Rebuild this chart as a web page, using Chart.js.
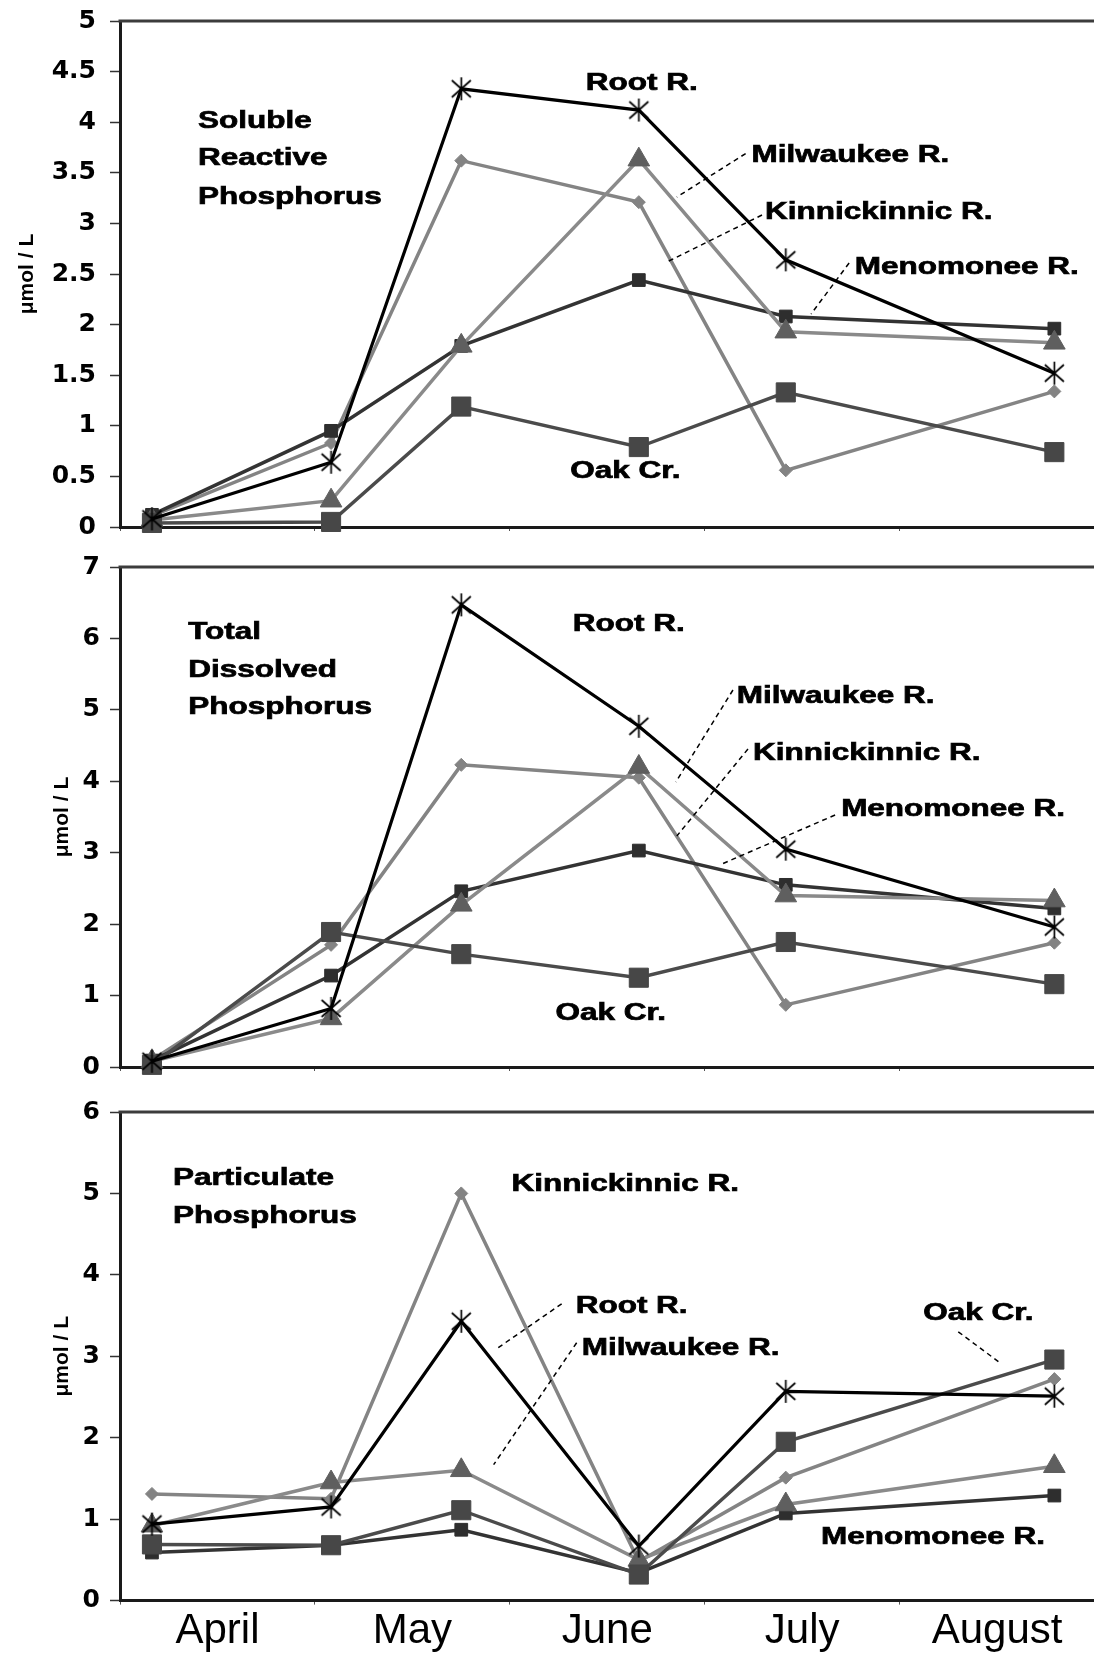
<!DOCTYPE html>
<html>
<head>
<meta charset="utf-8">
<title>Phosphorus in Milwaukee-area rivers</title>
<script src="https://cdn.jsdelivr.net/npm/chart.js@4.4.1/dist/chart.umd.min.js"></script>
<style>
  html, body { margin: 0; padding: 0; background: #fff; overflow: hidden; }
  #wrap { position: relative; width: 1094px; height: 1655px; overflow: hidden; }
  canvas { position: absolute; left: 0; top: 0; }
</style>
</head>
<body>
<div id="wrap">
  <canvas id="srp" width="1094" height="540"></canvas>
  <canvas id="tdp" width="1094" height="540"></canvas>
  <canvas id="pp"  width="1094" height="575"></canvas>
</div>
<script>
// ---- categories and sampling positions (month index + fraction of month) ----
const months = ['April', 'May', 'June', 'July', 'August'];
const samplePos = [0.164, 1.083, 1.751, 2.662, 3.416, 4.794];

// ---- Soluble Reactive Phosphorus (µmol/L) ----
const srpRoot = [0.08, 0.64, 4.33, 4.12, 2.64, 1.52];
const srpKinn = [0.11, 0.83, 3.62, 3.21, 0.56, 1.34];
const srpMilw = [0.07, 0.26, 1.79, 3.63, 1.93, 1.82];
const srpMeno = [0.12, 0.95, 1.79, 2.44, 2.08, 1.96];
const srpOak  = [0.04, 0.05, 1.19, 0.79, 1.33, 0.74];

// ---- Total Dissolved Phosphorus (µmol/L) ----
const tdpRoot = [0.08, 0.82, 6.47, 4.77, 3.05, 1.96];
const tdpKinn = [0.10, 1.71, 4.23, 4.05, 0.87, 1.74];
const tdpMilw = [0.08, 0.68, 2.27, 4.20, 2.40, 2.33];
const tdpMeno = [0.09, 1.28, 2.46, 3.03, 2.55, 2.22];
const tdpOak  = [0.03, 1.89, 1.58, 1.25, 1.75, 1.16];

// ---- Particulate Phosphorus (µmol/L) ----
const ppRoot = [0.94, 1.15, 3.43, 0.67, 2.57, 2.51];
const ppKinn = [1.31, 1.25, 5.00, 0.48, 1.51, 2.72];
const ppMilw = [0.92, 1.45, 1.60, 0.50, 1.18, 1.65];
const ppMeno = [0.59, 0.68, 0.87, 0.34, 1.07, 1.29];
const ppOak  = [0.69, 0.68, 1.11, 0.32, 1.95, 2.96];

// ---- in-plot text, in data coordinates (x = month position, y = µmol/L) ----
const srpText = [
  ['Soluble', 0.40, 4.01], ['Reactive', 0.40, 3.64], ['Phosphorus', 0.40, 3.26],
  ['Root R.', 2.39, 4.38], ['Milwaukee R.', 3.24, 3.67], ['Kinnickinnic R.', 3.31, 3.11],
  ['Menomonee R.', 3.77, 2.56], ['Oak Cr.', 2.31, 0.55]
];
const srpLeaders = [[3.21, 3.69, 2.857, 3.26], [3.294, 3.083, 2.806, 2.619], [3.741, 2.609, 3.546, 2.105]];

const tdpText = [
  ['Total', 0.35, 6.076], ['Dissolved', 0.35, 5.555], ['Phosphorus', 0.35, 5.029],
  ['Root R.', 2.323, 6.19], ['Milwaukee R.', 3.165, 5.18], ['Kinnickinnic R.', 3.248, 4.385],
  ['Menomonee R.', 3.70, 3.60], ['Oak Cr.', 2.235, 0.75]
];
const tdpLeaders = [[3.145, 5.278, 2.852, 3.99], [3.222, 4.452, 2.857, 3.234], [3.669, 3.528, 3.088, 2.842]];

const ppText = [
  ['Particulate', 0.272, 5.178], ['Phosphorus', 0.272, 4.712],
  ['Kinnickinnic R.', 2.009, 5.104], ['Root R.', 2.338, 3.607], ['Milwaukee R.', 2.369, 3.092],
  ['Oak Cr.', 4.121, 3.521], ['Menomonee R.', 3.597, 0.779]
];
const ppLeaders = [[2.266, 3.644, 1.932, 3.092], [2.343, 3.166, 1.917, 1.669], [4.301, 3.301, 4.522, 2.908]];

const SANS = "'Liberation Sans', Arial, sans-serif";
const PAGE_RIGHT = 1094;

// asterisk marker used for the Root River series
function asteriskMarker() {
  const c = document.createElement('canvas');
  c.width = 25; c.height = 25;
  const g = c.getContext('2d');
  g.strokeStyle = '#000';
  g.lineWidth = 1.7;
  g.beginPath();
  g.moveTo(12.5, 1); g.lineTo(12.5, 24);
  g.moveTo(3, 4); g.lineTo(22, 21);
  g.moveTo(22, 4); g.lineTo(3, 21);
  g.stroke();
  return c;
}
const STAR = asteriskMarker();

function pts(values) {
  return values.map((v, i) => ({ x: samplePos[i], y: v }));
}

function seriesSet(root, kinn, milw, meno, oak) {
  const common = { xAxisID: 'xv', yAxisID: 'y', tension: 0, clip: false, borderWidth: 3.5, pointBorderWidth: 1 };
  return [
    Object.assign({}, common, { label: 'Root R.', data: pts(root), order: 0, borderWidth: 3.2,
      borderColor: '#000000', pointStyle: STAR, pointRadius: 12 }),
    Object.assign({}, common, { label: 'Oak Cr.', data: pts(oak), order: 1,
      borderColor: '#4b4b4b', pointStyle: 'rect', pointRadius: 13.5,
      pointBackgroundColor: '#474747', pointBorderColor: '#474747' }),
    Object.assign({}, common, { label: 'Milwaukee R.', data: pts(milw), order: 2,
      borderColor: '#8a8a8a', pointStyle: 'triangle', pointRadius: 12.5,
      pointBackgroundColor: '#5f5f5f', pointBorderColor: '#5f5f5f' }),
    Object.assign({}, common, { label: 'Menomonee R.', data: pts(meno), order: 3,
      borderColor: '#333333', pointStyle: 'rect', pointRadius: 9,
      pointBackgroundColor: '#2e2e2e', pointBorderColor: '#2e2e2e' }),
    Object.assign({}, common, { label: 'Kinnickinnic R.', data: pts(kinn), order: 4,
      borderColor: '#848484', pointStyle: 'rectRot', pointRadius: 6.5,
      pointBackgroundColor: '#838383', pointBorderColor: '#838383' })
  ];
}

// top frame line, dashed leaders and series/heading text
function decorations(texts, leaders) {
  return {
    id: 'decorations',
    afterDatasetsDraw(chart) {
      const { ctx, chartArea: a } = chart;
      const xs = chart.scales.xv, ys = chart.scales.y;
      ctx.save();
      ctx.strokeStyle = '#3c3c3c';
      ctx.lineWidth = 3;
      ctx.beginPath();
      ctx.moveTo(a.left - 1.5, a.top);
      ctx.lineTo(a.right + 2, a.top);
      ctx.stroke();

      ctx.strokeStyle = '#000';
      ctx.lineWidth = 1.5;
      ctx.setLineDash([5, 4]);
      for (const [x1, y1, x2, y2] of leaders) {
        ctx.beginPath();
        ctx.moveTo(xs.getPixelForValue(x1), ys.getPixelForValue(y1));
        ctx.lineTo(xs.getPixelForValue(x2), ys.getPixelForValue(y2));
        ctx.stroke();
      }
      ctx.setLineDash([]);

      ctx.fillStyle = '#000';
      ctx.strokeStyle = '#000';
      ctx.lineWidth = 0.7;
      ctx.font = 'bold 23.5px ' + SANS;
      ctx.textAlign = 'left';
      ctx.textBaseline = 'middle';
      for (const [t, x, y] of texts) {
        ctx.save();
        ctx.translate(xs.getPixelForValue(x), ys.getPixelForValue(y));
        ctx.scale(1.34, 1);
        ctx.fillText(t, 0, 0);
        ctx.strokeText(t, 0, 0);
        ctx.restore();
      }
      ctx.restore();
    }
  };
}

function chartConfig(cfg) {
  return {
    type: 'line',
    data: { labels: months, datasets: cfg.datasets },
    options: {
      responsive: false,
      maintainAspectRatio: false,
      animation: false,
      events: [],
      layout: { padding: 0 },
      plugins: { legend: { display: false }, tooltip: { enabled: false } },
      scales: {
        x: {
          type: 'category', labels: months, offset: true,
          ticks: { display: cfg.showMonths, color: '#000', padding: 2, maxRotation: 0, autoSkip: false,
            font: { family: SANS, size: 42 } },
          grid: { offset: true, drawOnChartArea: false, tickLength: 4, tickColor: '#555', tickWidth: 1 },
          border: { display: true, color: '#1a1a1a', width: 3 }
        },
        xv: { type: 'linear', min: 0, max: 5, display: false },
        y: {
          min: 0, max: cfg.yMax,
          ticks: { stepSize: cfg.yStep, padding: cfg.tickPad, color: '#000',
            font: { family: "'DejaVu Sans', sans-serif", weight: 'bold', size: 25 },
            callback: (v) => String(v) },
          grid: { drawOnChartArea: false, tickLength: 10, tickColor: '#333', tickWidth: 1.5 },
          border: { display: true, color: '#1a1a1a', width: 3 },
          title: { display: true, text: 'μmol / L', color: '#000',
            font: { family: SANS, weight: 'bold', size: 21 }, padding: { top: cfg.titlePad, bottom: 0 } },
          afterFit(scale) { scale.width = 120; }
        }
      }
    },
    plugins: [decorations(cfg.texts, cfg.leaders)]
  };
}

// size each canvas so that its plot frame spans [top, bottom] on the page
// and reaches the right edge, then shift it into place
function panel(id, cfg) {
  const canvas = document.getElementById(id);
  let chart = new Chart(canvas, chartConfig(cfg));
  for (let k = 0; k < 4; k++) {
    const a = chart.chartArea;
    const w = Math.round(canvas.width + (PAGE_RIGHT - a.right));
    const h = Math.round(canvas.height + ((cfg.bottom - cfg.top) - (a.bottom - a.top)));
    if (w === canvas.width && h === canvas.height) break;
    chart.destroy();
    canvas.width = w;
    canvas.height = h;
    canvas.style.width = '';
    canvas.style.height = '';
    chart = new Chart(canvas, chartConfig(cfg));
  }
  canvas.style.top = (cfg.top - chart.chartArea.top) + 'px';
  return chart;
}

panel('srp', { datasets: seriesSet(srpRoot, srpKinn, srpMilw, srpMeno, srpOak),
  yMax: 5, yStep: 0.5, tickPad: 14, titlePad: 15, top: 21, bottom: 527, showMonths: false,
  texts: srpText, leaders: srpLeaders });
panel('tdp', { datasets: seriesSet(tdpRoot, tdpKinn, tdpMilw, tdpMeno, tdpOak),
  yMax: 7, yStep: 1, tickPad: 10, titlePad: 50, top: 567, bottom: 1067, showMonths: false,
  texts: tdpText, leaders: tdpLeaders });
panel('pp', { datasets: seriesSet(ppRoot, ppKinn, ppMilw, ppMeno, ppOak),
  yMax: 6, yStep: 1, tickPad: 10, titlePad: 50, top: 1112, bottom: 1601, showMonths: true,
  texts: ppText, leaders: ppLeaders });
</script>
</body>
</html>
